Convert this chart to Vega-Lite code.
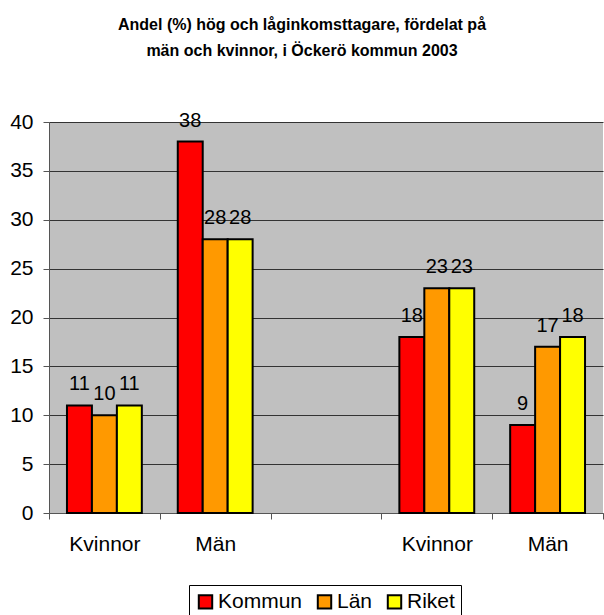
{
  "$schema": "https://vega.github.io/schema/vega-lite/v6.json",
  "width": 554,
  "height": 391,
  "autosize": {"type": "none"},
  "padding": {"left": 49, "top": 122, "right": 1, "bottom": 102},
  "background": "white",
  "config": {
    "font": "Liberation Sans",
    "view": {"fill": "#C0C0C0", "stroke": null}
  },
  "title": {
    "text": ["Andel (%) hög och låginkomsttagare, fördelat på", "män och kvinnor, i Öckerö kommun 2003"],
    "font": "Liberation Sans",
    "fontSize": 16,
    "fontWeight": "bold",
    "color": "black",
    "anchor": "middle",
    "offset": 57,
    "lineHeight": 26,
    "dx": -24,
    "dy": 5
  },
  "data": {
    "values": [
      {"grupp": "a", "serie": "Kommun", "varde": 11},
      {"grupp": "a", "serie": "Län", "varde": 10},
      {"grupp": "a", "serie": "Riket", "varde": 11},
      {"grupp": "b", "serie": "Kommun", "varde": 38},
      {"grupp": "b", "serie": "Län", "varde": 28},
      {"grupp": "b", "serie": "Riket", "varde": 28},
      {"grupp": "d", "serie": "Kommun", "varde": 18},
      {"grupp": "d", "serie": "Län", "varde": 23},
      {"grupp": "d", "serie": "Riket", "varde": 23},
      {"grupp": "e", "serie": "Kommun", "varde": 9},
      {"grupp": "e", "serie": "Län", "varde": 17},
      {"grupp": "e", "serie": "Riket", "varde": 18}
    ]
  },
  "encoding": {
    "x": {
      "field": "grupp",
      "type": "nominal",
      "scale": {"domain": ["a", "b", "c", "d", "e"], "paddingInner": 0, "paddingOuter": 0},
      "axis": {
        "title": null,
        "labelAngle": 0,
        "labelExpr": "datum.value == 'a' || datum.value == 'd' ? 'Kvinnor' : (datum.value == 'b' || datum.value == 'e' ? 'Män' : '')",
        "tickBand": "extent",
        "labelFontSize": 21,
        "labelColor": "black",
        "labelPadding": 14,
        "tickSize": 6,
        "tickColor": "#555555",
        "domainColor": "#555555",
        "grid": false
      }
    },
    "xOffset": {
      "field": "serie",
      "type": "nominal",
      "scale": {"domain": ["Kommun", "Län", "Riket"], "paddingInner": 0, "paddingOuter": 0.72}
    },
    "y": {
      "field": "varde",
      "type": "quantitative",
      "scale": {"domain": [0, 40], "nice": false},
      "axis": {
        "title": null,
        "values": [0, 5, 10, 15, 20, 25, 30, 35, 40],
        "labelFontSize": 21,
        "labelColor": "black",
        "labelPadding": 10,
        "tickSize": 6,
        "tickColor": "#555555",
        "domainColor": "#555555",
        "gridColor": "#333333",
        "gridOpacity": 1,
        "gridWidth": 1
      }
    }
  },
  "layer": [
    {
      "mark": {"type": "bar", "stroke": "black", "strokeWidth": 2},
      "encoding": {
        "color": {
          "field": "serie",
          "type": "nominal",
          "scale": {"domain": ["Kommun", "Län", "Riket"], "range": ["#FF0000", "#FF9900", "#FFFF00"]},
          "legend": {
            "title": null,
            "orient": "none",
            "direction": "horizontal",
            "legendX": 140,
            "legendY": 463,
            "symbolType": "square",
            "symbolSize": 180,
            "symbolStrokeColor": "black",
            "symbolStrokeWidth": 2,
            "symbolOpacity": 1,
            "labelFontSize": 21,
            "labelColor": "black",
            "labelOffset": 2,
            "columnPadding": 10,
            "strokeColor": "black",
            "fillColor": "white",
            "padding": 6
          }
        }
      }
    },
    {
      "mark": {"type": "text", "baseline": "alphabetic", "dy": -15, "fontSize": 20, "color": "black"},
      "encoding": {"text": {"field": "varde", "type": "quantitative"}}
    }
  ]
}
